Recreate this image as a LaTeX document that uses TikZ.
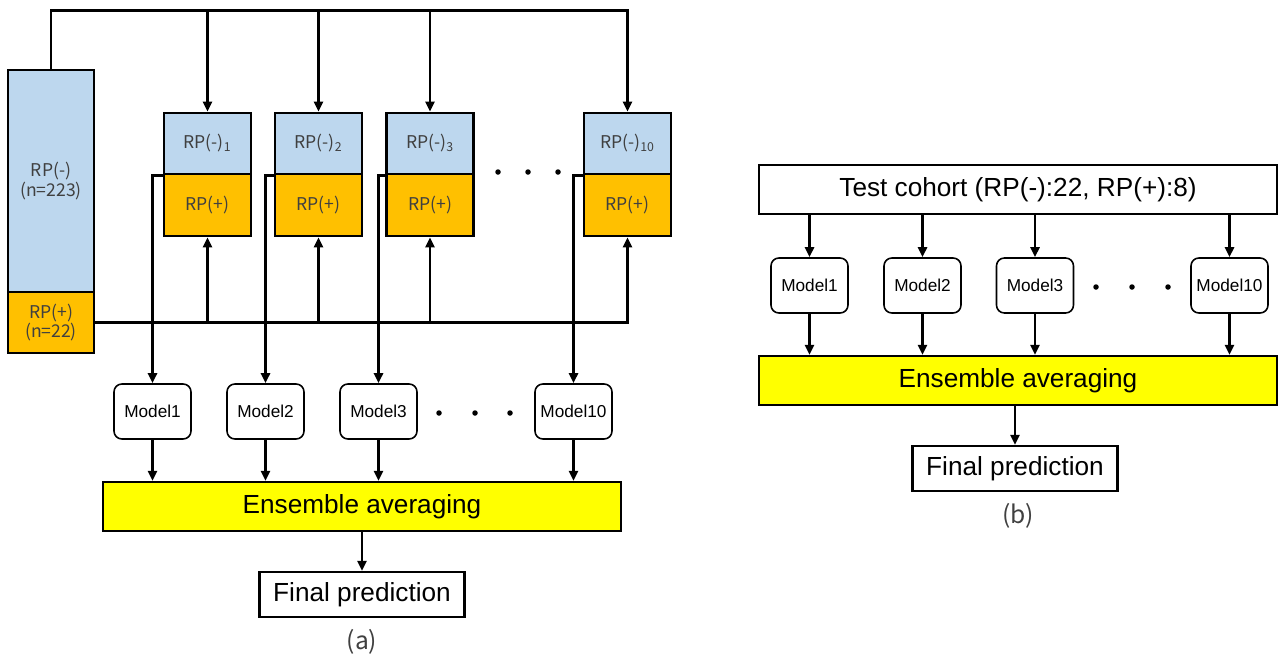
\documentclass[tikz,border=0pt]{standalone}
\usepackage{fontspec}
\setmainfont{Liberation Sans}
\newfontfamily\jpfont{Noto Sans CJK JP}
\usepackage{tikz}
\usetikzlibrary{arrows.meta, positioning, calc}
\definecolor{NegBlue}{RGB}{189,215,238}
\definecolor{PosOrange}{RGB}{255,192,0}
\definecolor{EnsYellow}{RGB}{255,255,0}
\definecolor{LabelGray}{RGB}{64,64,64}

\tikzset{
  negbox/.style={draw, line width=1.6pt, fill=NegBlue, minimum width=1.74cm, minimum height=1.22cm, inner sep=0pt, font=\jpfont\fontsize{10}{10}\selectfont, text=LabelGray},
  posbox/.style={negbox, fill=PosOrange},
  model/.style={draw, rounded corners=4.5pt, line width=0.9pt, minimum width=1.54cm, minimum height=1.1cm, inner sep=0pt, font=\fontsize{9.8}{11}\selectfont},
  ensbox/.style={draw, line width=1.3pt, fill=EnsYellow, minimum width=10.36cm, minimum height=0.98cm, inner sep=0pt, font=\fontsize{14.9}{16}\selectfont},
  finalbox/.style={draw, line width=1.3pt, minimum width=4.1cm, minimum height=0.9cm, inner sep=0pt, font=\fontsize{14.9}{16}\selectfont},
  sublabel/.style={font=\jpfont\fontsize{14}{15}\selectfont, text=LabelGray},
  link/.style={line width=1.4pt, -{Triangle[length=2mm, width=1.8mm]}}
}

\begin{document}
\begin{tikzpicture}
\useasboundingbox (0,0) rectangle (25.68,-13.16);
\node[negbox, minimum width=1.72cm, minimum height=4.44cm, align=center] at (1.02,-3.62) (negall) {RP(-)\\(n=223)};
\node[posbox, minimum width=1.72cm, align=center] at (1.02,-6.45) (posall) {RP(+)\\(n=22)};
\foreach \i/\x in {1/4.15, 2/6.37, 3/8.60, 10/12.55} {
  \node[negbox] at (\x,-2.87) (neg\i) {RP(-)\textsubscript{\i}};
  \node[posbox, minimum height=1.24cm] at (\x,-4.10) (pos\i) {RP(+)};
}
\foreach \x in {9.96,10.56,11.16} \fill (\x,-3.44) circle (0.055);
\coordinate (topbus) at (0,-0.21);
\draw[link] (negall.north) |- (topbus -| neg10.north) -- (neg10.north);
\foreach \i in {1,2,3} \draw[link] (topbus -| neg\i.north) -- (neg\i.north);
\draw[link] (posall.east) -| (pos10.south);
\foreach \i in {1,2,3} \draw[link] (posall.east -| pos\i.south) -- (pos\i.south);

\node[ensbox] at (7.24,-10.13) (ens) {Ensemble averaging};
\node[finalbox] at (7.24,-11.89) (final) {Final prediction};
\foreach \i/\x in {1/3.05, 2/5.31, 3/7.57, 10/11.47} {
  \node[model] at (\x,-8.23) (model\i) {Model\i};
  \draw[link] (neg\i.south west) -| (model\i.north);
  \draw[link] (model\i.south) -- (model\i.south |- ens.north);
}
\foreach \x in {8.78,9.50,10.20} \fill (\x,-8.26) circle (0.055);
\draw[link] (ens.south) -- (final.north);
\node[sublabel] at (7.24,-12.84) (capa) {(a)};

\node[ensbox, fill=white] at (20.36,-3.79) (test) {Test cohort (RP(-):22, RP(+):8)};
\node[ensbox] at (20.36,-7.61) (rens) {Ensemble averaging};
\node[finalbox] at (20.30,-9.37) (rfinal) {Final prediction};
\foreach \i/\x in {1/16.19, 2/18.45, 3/20.70, 10/24.59} {
  \node[model] at (\x,-5.71) (rmodel\i) {Model\i};
  \draw[link] (rmodel\i.north |- test.south) -- (rmodel\i.north);
  \draw[link] (rmodel\i.south) -- (rmodel\i.south |- rens.north);
}
\foreach \x in {21.92,22.64,23.36} \fill (\x,-5.74) circle (0.055);
\draw[link] (rfinal.north |- rens.south) -- (rfinal.north);
\node[sublabel] at (20.36,-10.32) (capb) {(b)};
\end{tikzpicture}
\end{document}
